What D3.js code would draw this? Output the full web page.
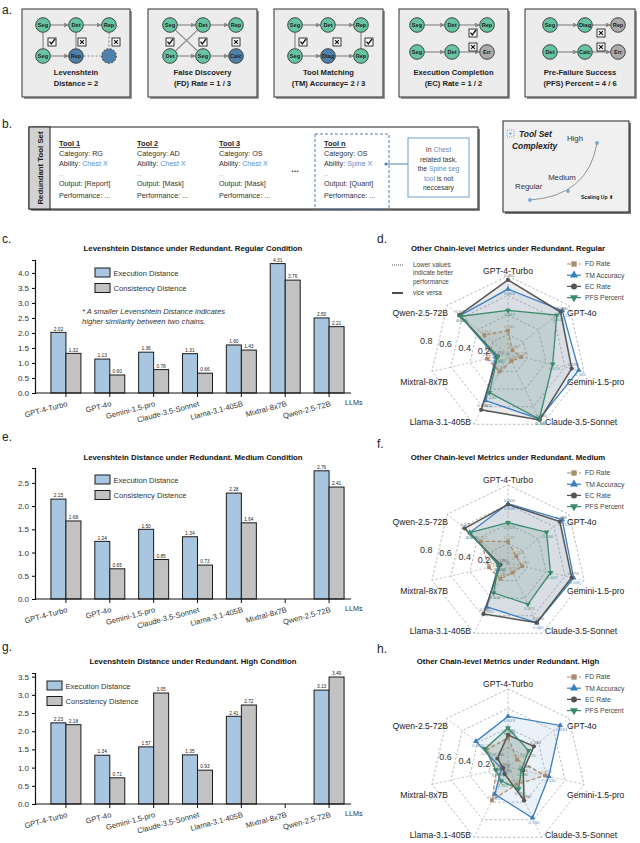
<!DOCTYPE html>
<html>
<head>
<meta charset="utf-8">
<script src="https://cdn.jsdelivr.net/npm/d3@7"></script>
<style>
  body { margin: 0; background: #fff; }
  text { font-family: "Liberation Sans", Arial, sans-serif; }
</style>
</head>
<body>
<script>
// ---- data ----
const llms = ["GPT-4-Turbo", "GPT-4o", "Gemini-1.5-pro", "Claude-3.5-Sonnet", "Llama-3.1-405B", "Mixtral-8x7B", "Qwen-2.5-72B"];

const execRegular = [2.02, 1.13, 1.36, 1.31, 1.60, 4.31, 2.50];
const consRegular = [1.32, 0.60, 0.78, 0.66, 1.43, 3.76, 2.21];
const execMedium = [2.15, 1.24, 1.50, 1.34, 2.28, null, 2.76];
const consMedium = [1.68, 0.65, 0.85, 0.73, 1.64, null, 2.41];
const execHigh = [2.23, 1.34, 1.57, 1.35, 2.41, null, 3.13];
const consHigh = [2.18, 0.72, 3.05, 0.93, 2.72, null, 3.49];

const ticksRegular = [0, 0.5, 1, 1.5, 2, 2.5, 3, 3.5, 4];
const ticksMedium = [0, 0.5, 1, 1.5, 2, 2.5];
const ticksHigh = [0, 0.5, 1, 1.5, 2, 2.5, 3, 3.5];

const metrics = ["FD Rate", "TM Accuracy", "EC Rate", "PFS Percent"];
const fdRegular = [0.24, 0.06, 0.14, 0.08, 0.20, 0.22, 0.312];
const tmRegular = [0.666, 0.713, 0.745, 0.74, 0.53, 0.13, 0.63];
const ecRegular = [0.76, 0.69, 0.67, 0.75, 0.635, 0.11, 0.64];
const pfsRegular = [0.447, 0.64, 0.47, 0.74, 0.44, 0.11, 0.62];

const fdMedium = [0.22, 0.11, 0.15, 0.11, 0.18, 0.20, 0.357];
const tmMedium = [0.608, 0.712, 0.69, 0.68, 0.50, 0.10, 0.50];
const ecMedium = [0.60, 0.68, 0.67, 0.68, 0.58, 0.08, 0.57];
const pfsMedium = [0.413, 0.506, 0.447, 0.47, 0.34, 0.10, 0.50];

const fdHigh = [0.30, 0.12, 0.39, 0.20, 0.38, 0.12, 0.28];
const tmHigh = [0.519, 0.684, 0.43, 0.58, 0.31, 0.07, 0.421];
const ecHigh = [0.33, 0.34, 0.16, 0.38, 0.08, 0.05, 0.14];
const pfsHigh = [0.40, 0.27, 0.14, 0.25, 0.16, 0.13, 0.30];

const radarTicks = [0.2, 0.4, 0.6, 0.8];

const svg = d3.select("body").append("svg")
    .attr("width", 640)
    .attr("height", 843);

const defs = svg.append("defs");
defs.append("marker").attr("id", "arr")
    .attr("viewBox", "0 0 6 6").attr("refX", 5).attr("refY", 3)
    .attr("markerWidth", 4).attr("markerHeight", 4).attr("orient", "auto")
    .append("path").attr("d", "M0,0L6,3L0,6Z").attr("fill", "#888");

function panelLabel(t, x, y) {
    svg.append("text").attr("x", x).attr("y", y).text(t)
        .attr("font-size", 12).attr("fill", "#222");
}

// ---- panel a ----
const nodeFill = {t: "#66c4a2", b: "#4f80a9", g: "#ababab"};

const aBoxes = [
    {x0: 22, x1: 130, cols: [43, 76, 109], rows: [25, 56],
     nodes: [["Seg","t"],["Det","t"],["Rep","t"],["Seg","t"],["Rep","b"],["","bd"]],
     edges: [[0,1,"a"],[1,2,"a"],[3,4,"a"],[4,5,"d"],[0,3,"v"],[1,4,"v"],[2,5,"vd"]],
     marks: [[52,42,"c"],[82,42,"x"],[116,42,"x"]],
     label: ["Levenshtein", "Distance = 2"]},
    {x0: 148, x1: 257, cols: [170, 203, 236], rows: [25, 56],
     nodes: [["Seg","t"],["Det","t"],["Rep","t"],["Det","t"],["Seg","t"],["Calc","b"]],
     edges: [[0,1,"a"],[1,2,"a"],[3,4,"a"],[4,5,"a"],[0,4,"v"],[1,3,"v"]],
     marks: [[170,42,"c"],[203,42,"c"],[236,42,"x"]],
     label: ["False Discovery", "(FD) Rate = 1 / 3"]},
    {x0: 274, x1: 383, cols: [295, 328, 361], rows: [25, 56],
     nodes: [["Seg","t"],["Det","t"],["Rep","t"],["Seg","t"],["Diag","b"],["Rep","t"]],
     edges: [[0,1,"a"],[1,2,"a"],[3,4,"a"],[4,5,"a"],[0,3,"v"],[2,5,"v"]],
     marks: [[303,42,"c"],[337,42,"x"],[369,42,"c"]],
     label: ["Tool Matching", "(TM) Accuracy= 2 / 3"]},
    {x0: 399, x1: 508, cols: [417, 452, 487], rows: [25, 52],
     nodes: [["Seg","t"],["Det","t"],["Rep","t"],["Seg","t"],["Det","t"],["Err","g"]],
     edges: [[0,1,"a"],[1,2,"a"],[3,4,"a"],[4,5,"a"]],
     marks: [[473,33,"c"],[473,47,"x"]],
     label: ["Execution Completion", "(EC) Rate = 1 / 2"]},
    {x0: 525, x1: 635, cols: [550, 585, 618], rows: [25, 52],
     nodes: [["Seg","t"],["Diag","t"],["Rep","g"],["Det","t"],["Calc","t"],["Err","g"]],
     edges: [[0,1,"a"],[1,2,"a"],[3,4,"a"],[4,5,"a"]],
     marks: [[601,33,"x"],[601,47,"x"]],
     label: ["Pre-Failure Success", "(PFS) Percent = 4 / 6"]}
];

function markBox(x, y, type) {
    const g = svg.append("g").attr("transform", `translate(${x},${y})`);
    g.append("rect").attr("x", -4).attr("y", -4).attr("width", 8).attr("height", 8)
        .attr("fill", "#fff").attr("stroke", "#222").attr("stroke-width", 0.9);
    if (type === "c") {
        g.append("path").attr("d", "M-2.5,-0.3L-0.7,2L3,-3")
            .attr("fill", "none").attr("stroke", "#111").attr("stroke-width", 1.3);
    } else {
        g.append("path").attr("d", "M-1.9,-1.9L1.9,1.9M1.9,-1.9L-1.9,1.9")
            .attr("stroke", "#111").attr("stroke-width", 1.2);
    }
}

panelLabel("a.", 2, 14);
aBoxes.forEach(b => {
    svg.append("rect").attr("x", b.x0 + 2).attr("y", 11).attr("width", b.x1 - b.x0).attr("height", 88).attr("fill", "#9a9a9a");
    svg.append("rect").attr("x", b.x0).attr("y", 9).attr("width", b.x1 - b.x0).attr("height", 88)
        .attr("fill", "#ececec").attr("stroke", "#333").attr("stroke-width", 1);
    const pos = b.nodes.map((n, i) => [b.cols[i % 3], b.rows[Math.floor(i / 3)]]);
    b.edges.forEach(e => {
        const [x1, y1] = pos[e[0]], [x2, y2] = pos[e[1]];
        const len = Math.hypot(x2 - x1, y2 - y1), ux = (x2 - x1) / len, uy = (y2 - y1) / len;
        const ln = svg.append("line")
            .attr("x1", x1 + ux * 7.5).attr("y1", y1 + uy * 7.5)
            .attr("x2", x2 - ux * 8).attr("y2", y2 - uy * 8)
            .attr("stroke", "#8c8c8c").attr("stroke-width", 1.2);
        if (e[2] === "a") ln.attr("marker-end", "url(#arr)");
        if (e[2] === "d" || e[2] === "vd") ln.attr("stroke-dasharray", "2,2");
    });
    b.nodes.forEach((n, i) => {
        const [x, y] = pos[i];
        svg.append("circle").attr("cx", x).attr("cy", y).attr("r", 7.3)
            .attr("fill", nodeFill[n[1][0]])
            .attr("stroke", "#333").attr("stroke-width", 0.9)
            .attr("stroke-dasharray", n[1] === "bd" ? "2,1.5" : null);
        svg.append("text").attr("x", x).attr("y", y + 2).attr("text-anchor", "middle")
            .attr("font-size", 5.6).attr("font-weight", "bold").attr("fill", "#222").text(n[0]);
    });
    b.marks.forEach(m => markBox(m[0], m[1], m[2]));
    b.label.forEach((t, i) => {
        svg.append("text").attr("x", (b.x0 + b.x1) / 2).attr("y", 75 + i * 11)
            .attr("text-anchor", "middle").attr("font-size", 7.6).attr("font-weight", "bold")
            .attr("fill", "#222").text(t);
    });
});

// ---- panel b ----
panelLabel("b.", 2, 128);
svg.append("rect").attr("x", 31).attr("y", 129).attr("width", 449).attr("height", 82).attr("fill", "#888");
svg.append("rect").attr("x", 29).attr("y", 127).attr("width", 449).attr("height", 82)
    .attr("fill", "#fff").attr("stroke", "#222").attr("stroke-width", 1);
svg.append("rect").attr("x", 29).attr("y", 127).attr("width", 21).attr("height", 82)
    .attr("fill", "#d2d2d2").attr("stroke", "#222").attr("stroke-width", 1);
svg.append("text").attr("transform", "translate(43,168) rotate(-90)")
    .attr("text-anchor", "middle").attr("font-size", 7.8).attr("font-weight", "bold")
    .attr("fill", "#222").text("Redundant  Tool Set");

const toolNames = ["Tool 1", "Tool 2", "Tool 3", "Tool n"];
const toolCats = ["RG", "AD", "OS", "OS"];
const toolAbility = ["Chest X", "Chest X", "Chest X", "Spine X"];
const toolOut = ["[Report]", "[Mask]", " [Mask]", " [Quant]"];
const toolX = [59, 137, 219, 324];
const blue = "#5b8fca";

svg.append("rect").attr("x", 315).attr("y", 134).attr("width", 74).attr("height", 75)
    .attr("fill", "none").attr("stroke", "#4d7fb5").attr("stroke-width", 1).attr("stroke-dasharray", "3,2");

toolNames.forEach((n, i) => {
    const x = toolX[i];
    svg.append("text").attr("x", x).attr("y", 146).attr("font-size", 7.4)
        .attr("font-weight", "bold").attr("text-decoration", "underline").attr("fill", "#222").text(n);
    svg.append("text").attr("x", x).attr("y", 156).attr("font-size", 7.2).attr("fill", "#333").text("Category: " + toolCats[i]);
    const ab = svg.append("text").attr("x", x).attr("y", 166).attr("font-size", 7.2).attr("fill", "#333");
    ab.append("tspan").text("Ability: ");
    ab.append("tspan").attr("fill", blue).text(toolAbility[i]);
    svg.append("text").attr("x", x).attr("y", 176).attr("font-size", 5).attr("fill", "#777").text("...");
    svg.append("text").attr("x", x).attr("y", 186).attr("font-size", 7.2).attr("fill", "#333").text("Output: " + toolOut[i]);
    svg.append("text").attr("x", x).attr("y", 198).attr("font-size", 7.2).attr("fill", "#333").text("Performance: ...");
});
svg.append("text").attr("x", 295).attr("y", 172).attr("text-anchor", "middle").attr("font-size", 9)
    .attr("font-weight", "bold").attr("fill", "#333").text("...");

// callout
svg.append("line").attr("x1", 386).attr("y1", 164).attr("x2", 408).attr("y2", 164).attr("stroke", "#4d7fb5").attr("stroke-width", 1);
svg.append("circle").attr("cx", 386).attr("cy", 164).attr("r", 1.6).attr("fill", "#4d7fb5");
svg.append("rect").attr("x", 408).attr("y", 138).attr("width", 61).attr("height", 59)
    .attr("fill", "#fff").attr("stroke", "#6d9fd2").attr("stroke-width", 1);
const callLines = [[["In ", "#333"], ["Chest", blue]], [["related task,", "#333"]], [["the ", "#333"], ["Spine seg", blue]],
    [["tool", blue], [" is not", "#333"]], [["neccesary", "#333"]]];
callLines.forEach((ln, i) => {
    const t = svg.append("text").attr("x", 438.5).attr("y", 152 + i * 9.6).attr("text-anchor", "middle")
        .attr("font-size", 6.8).style("font-family", "'Liberation Sans Narrow','Liberation Sans',sans-serif");
    ln.forEach(p => t.append("tspan").attr("fill", p[1]).text(p[0]));
});

// complexity box
svg.append("rect").attr("x", 505).attr("y", 123).attr("width", 126).attr("height", 91).attr("fill", "#777");
svg.append("rect").attr("x", 503).attr("y", 121).attr("width", 126).attr("height", 91)
    .attr("fill", "#f0f0f0").attr("stroke", "#222").attr("stroke-width", 1);
svg.append("rect").attr("x", 507).attr("y", 130).attr("width", 7).attr("height", 7)
    .attr("fill", "none").attr("stroke", "#6d9fd2").attr("stroke-width", 0.8).attr("stroke-dasharray", "1,1");
svg.append("rect").attr("x", 509.5).attr("y", 132.5).attr("width", 2).attr("height", 2).attr("fill", "#6d9fd2");
svg.append("text").attr("x", 519).attr("y", 137).attr("font-size", 8.4).attr("font-weight", "bold")
    .attr("font-style", "italic").attr("fill", "#222").text("Tool Set");
svg.append("text").attr("x", 512).attr("y", 149).attr("font-size", 8.4).attr("font-weight", "bold")
    .attr("font-style", "italic").attr("fill", "#222").text("Complexity");
svg.append("path").attr("d", "M530,200 Q588,196 597,143").attr("fill", "none").attr("stroke", "#888").attr("stroke-width", 0.9);
[[530, 200], [568, 191], [597, 143]].forEach(p => {
    svg.append("circle").attr("cx", p[0]).attr("cy", p[1]).attr("r", 2).attr("fill", "#7fa9cf");
});
svg.append("text").attr("x", 575).attr("y", 141).attr("text-anchor", "middle").attr("font-size", 7.8).attr("fill", "#333").text("High");
svg.append("text").attr("x", 562).attr("y", 180).attr("text-anchor", "middle").attr("font-size", 7.8).attr("fill", "#333").text("Medium");
svg.append("text").attr("x", 515).attr("y", 189).attr("font-size", 7.8).attr("fill", "#333").text("Regular");
svg.append("text").attr("x", 597).attr("y", 199).attr("text-anchor", "middle").attr("font-size", 5.2)
    .attr("font-weight", "bold").attr("fill", "#222").text("Scaling Up \u2B06");

// ---- bar charts ----
const execColor = "#a9c6e1";
const consColor = "#c2c2c2";

function barChart(o) {
    const x = d3.scaleBand().domain(llms).range([44, 351]).paddingInner(0.316).paddingOuter(0.158);
    const sub = d3.scaleBand().domain(["exec", "cons"]).range([0, x.bandwidth()]);
    const y = d3.scaleLinear().domain([0, o.yMax]).range([o.y0, o.yTop]);
    const g = svg.append("g");

    g.append("text").attr("x", 193).attr("y", o.titleY).attr("text-anchor", "middle")
        .attr("font-size", 7.8).attr("font-weight", "bold").attr("fill", "#111").text(o.title);

    const data = llms.map((name, i) => ({name, vals: [
        {k: "exec", v: o.exec[i]}, {k: "cons", v: o.cons[i]}].filter(d => d.v != null)}));

    const grp = g.selectAll("g.grp").data(data).enter().append("g")
        .attr("transform", d => `translate(${x(d.name)},0)`);
    grp.selectAll("rect").data(d => d.vals).enter().append("rect")
        .attr("x", d => sub(d.k)).attr("width", sub.bandwidth())
        .attr("y", d => y(d.v)).attr("height", d => o.y0 - y(d.v))
        .attr("fill", d => d.k === "exec" ? execColor : consColor)
        .attr("stroke", "#1a1a1a").attr("stroke-width", 1);
    grp.selectAll("text").data(d => d.vals).enter().append("text")
        .attr("x", d => sub(d.k) + sub.bandwidth() / 2).attr("y", d => y(d.v) - 1.8)
        .attr("text-anchor", "middle").attr("font-size", 4.8).attr("fill", "#222")
        .text(d => d.v.toFixed(2));

    const ya = g.append("g").attr("transform", "translate(35,0)")
        .call(d3.axisLeft(y).tickValues(o.ticks).tickFormat(d3.format(".1f")).tickSize(3));
    ya.select(".domain").attr("stroke", "#111").attr("stroke-width", 1.2);
    ya.selectAll("text").attr("font-size", 8).attr("fill", "#333").attr("font-family", "Liberation Sans");

    const xa = g.append("g").attr("transform", `translate(0,${o.y0})`)
        .call(d3.axisBottom(x).tickSize(4).tickFormat(""));
    xa.select(".domain").remove();
    xa.selectAll("line").attr("stroke", "#111").attr("stroke-width", 1);
    g.append("line").attr("x1", 35).attr("x2", 351).attr("y1", o.y0).attr("y2", o.y0)
        .attr("stroke", "#111").attr("stroke-width", 1.2);

    g.selectAll("text.xl").data(llms).enter().append("text")
        .attr("class", "xl")
        .attr("transform", d => `translate(${x(d) + x.bandwidth() / 2 + 2},${o.y0 + 13}) rotate(-15)`)
        .attr("text-anchor", "end").attr("font-size", 7.6).attr("fill", "#333").text(d => d);
    g.append("text").attr("x", 345).attr("y", o.y0 + 12).attr("font-size", 7.2).attr("fill", "#333").text("LLMs");

    const lg = g.selectAll("g.lg").data([["Execution Distance", execColor], ["Consistency Distence", consColor]])
        .enter().append("g")
        .attr("transform", (d, i) => `translate(${o.legX},${o.legY + i * 15.5})`);
    lg.append("rect").attr("width", 15).attr("height", 9).attr("fill", d => d[1])
        .attr("stroke", "#1a1a1a").attr("stroke-width", 1);
    lg.append("text").attr("x", 18.5).attr("y", 7.6).attr("font-size", 7.6).attr("fill", "#333").text(d => d[0]);

    if (o.note) {
        o.note.forEach((t, i) => {
            g.append("text").attr("x", 82).attr("y", 314 + i * 9.5).attr("font-size", 7.6)
                .attr("font-style", "italic").attr("fill", "#333").text(t);
        });
    }
}

panelLabel("c.", 2, 243);
barChart({title: "Levenshtein Distance under Redundant. Regular Condition", titleY: 251,
    exec: execRegular, cons: consRegular, ticks: ticksRegular, yMax: 4.43, y0: 393, yTop: 260,
    legX: 95, legY: 268,
    note: ["* A smaller Levenshtein Distance indicates", "higher similarity between two chains."]});

panelLabel("e.", 2, 441);
barChart({title: "Levenshtein Distance under Redundant. Medium Condition", titleY: 460,
    exec: execMedium, cons: consMedium, ticks: ticksMedium, yMax: 2.82, y0: 599, yTop: 468,
    legX: 95, legY: 475});

panelLabel("g.", 2, 651);
barChart({title: "Levenshtein Distance under Redundant. High Condition", titleY: 664,
    exec: execHigh, cons: consHigh, ticks: ticksHigh, yMax: 3.6, y0: 804, yTop: 673,
    legX: 47, legY: 681});

// ---- radar charts ----
const seriesStyle = [
    {name: "FD Rate", color: "#a88b6e", dash: "4,2", sym: d3.symbolSquare, rot: 0, fill: "rgba(168,139,110,0.12)"},
    {name: "TM Accuracy", color: "#3b7ec0", dash: null, sym: d3.symbolTriangle, rot: 0, fill: "rgba(90,140,200,0.12)"},
    {name: "EC Rate", color: "#555555", dash: null, sym: d3.symbolCircle, rot: 0, fill: "rgba(90,90,90,0.12)"},
    {name: "PFS Percent", color: "#3a8b6b", dash: null, sym: d3.symbolTriangle, rot: 180, fill: "rgba(60,130,100,0.14)"}
];
const labelOff = [[0, -83, "middle"], [59, -41, "start"], [59, 28, "start"], [37, 68, "start"],
    [-37, 68, "end"], [-60, 28, "end"], [-60, -41, "end"]];

function radar(o) {
    const cx = 508, cy = o.cy;
    const r = d3.scaleLinear().domain([0, 0.8]).range([0, 78]);
    const ang = d3.scaleLinear().domain([0, llms.length]).range([0, 2 * Math.PI]);
    const g = svg.append("g").attr("transform", `translate(${cx},${cy})`);

    svg.append("text").attr("x", cx).attr("y", o.titleY).attr("text-anchor", "middle")
        .attr("font-size", 7.8).attr("font-weight", "bold").attr("fill", "#111").text(o.title);

    radarTicks.forEach(v => {
        g.append("path")
            .attr("d", d3.lineRadial().angle((d, i) => ang(i)).radius(() => r(v)).curve(d3.curveLinearClosed)(llms))
            .attr("fill", "none").attr("stroke", "#9c9c9c").attr("stroke-width", 0.7).attr("stroke-dasharray", "2.5,2");
    });
    llms.forEach((l, i) => {
        const p = d3.pointRadial(ang(i), r(0.8));
        g.append("line").attr("x1", 0).attr("y1", 0).attr("x2", p[0]).attr("y2", p[1])
            .attr("stroke", "#b0b0b0").attr("stroke-width", 0.7).attr("stroke-dasharray", "2.5,2");
        g.append("text").attr("x", labelOff[i][0]).attr("y", labelOff[i][1] + 3)
            .attr("text-anchor", labelOff[i][2]).attr("font-size", 8.6).attr("fill", "#222").text(l);
    });

    const line = d3.lineRadial().angle((d, i) => ang(i)).radius(d => r(d)).curve(d3.curveLinearClosed);
    o.series.forEach((s, k) => {
        g.append("path").attr("d", line(s)).attr("fill", seriesStyle[k].fill).attr("stroke", "none");
    });
    o.series.forEach((s, k) => {
        const st = seriesStyle[k];
        g.append("path").attr("d", line(s)).attr("fill", "none").attr("stroke", st.color)
            .attr("stroke-width", k === 2 ? 1.5 : 1.3).attr("stroke-dasharray", st.dash);
        s.forEach((v, i) => {
            const p = d3.pointRadial(ang(i), r(v));
            g.append("path").attr("d", d3.symbol().type(st.sym).size(14)())
                .attr("transform", `translate(${p[0]},${p[1]}) rotate(${st.rot})`)
                .attr("fill", st.color);
            g.append("text").attr("x", p[0] + 1.5).attr("y", p[1] + (k % 2 ? 6 : -2.5))
                .attr("text-anchor", "middle").attr("font-size", 4.4).attr("fill", st.color)
                .attr("opacity", 0.8).text(v.toFixed(3));
        });
    });

    o.rLabels.forEach(v => {
        const d = r(v) + 5;
        g.append("text").attr("x", -d * 0.985).attr("y", -d * 0.167 + 4)
            .attr("text-anchor", "middle").attr("font-size", 9).attr("fill", "#333").text(v.toFixed(1));
    });

    // legend
    const lg = svg.selectAll(null).data(seriesStyle).enter().append("g")
        .attr("transform", (d, i) => `translate(574,${o.titleY + 13 + i * 11.2})`);
    lg.append("line").attr("x1", -7).attr("x2", 7).attr("stroke", d => d.color).attr("stroke-width", 1.2)
        .attr("stroke-dasharray", d => d.dash);
    lg.append("path").attr("d", d => d3.symbol().type(d.sym).size(28)())
        .attr("transform", d => `rotate(${d.rot})`).attr("fill", d => d.color);
    lg.append("text").attr("x", 11).attr("y", 2.4).attr("font-size", 6.8).attr("fill", "#444").text(d => d.name);

    if (o.note) {
        svg.append("line").attr("x1", 392).attr("x2", 403).attr("y1", 265).attr("y2", 265)
            .attr("stroke", "#555").attr("stroke-width", 1).attr("stroke-dasharray", "1,1");
        ["Lower values", "indicate better", "performance"].forEach((t, i) => {
            svg.append("text").attr("x", 413).attr("y", 267 + i * 8.3).attr("font-size", 6.4)
                .attr("fill", "#444").text(t);
        });
        svg.append("line").attr("x1", 392).attr("x2", 403).attr("y1", 293).attr("y2", 293)
            .attr("stroke", "#222").attr("stroke-width", 1.6);
        svg.append("text").attr("x", 413).attr("y", 295).attr("font-size", 6.4).attr("fill", "#444").text("vice versa");
    }
}

panelLabel("d.", 377, 243);
radar({cy: 354, titleY: 251, title: "Other Chain-level Metrics under Redundant. Regular",
    series: [fdRegular, tmRegular, ecRegular, pfsRegular], rLabels: [0.8, 0.6, 0.4, 0.2], note: true});

panelLabel("f.", 377, 448);
radar({cy: 563, titleY: 460, title: "Other Chain-level Metrics under Redundant. Medium",
    series: [fdMedium, tmMedium, ecMedium, pfsMedium], rLabels: [0.8, 0.6, 0.4, 0.2]});

panelLabel("h.", 377, 653);
radar({cy: 767, titleY: 664, title: "Other Chain-level Metrics under Redundant. High",
    series: [fdHigh, tmHigh, ecHigh, pfsHigh], rLabels: [0.6, 0.4, 0.2]});
</script>
</body>
</html>
